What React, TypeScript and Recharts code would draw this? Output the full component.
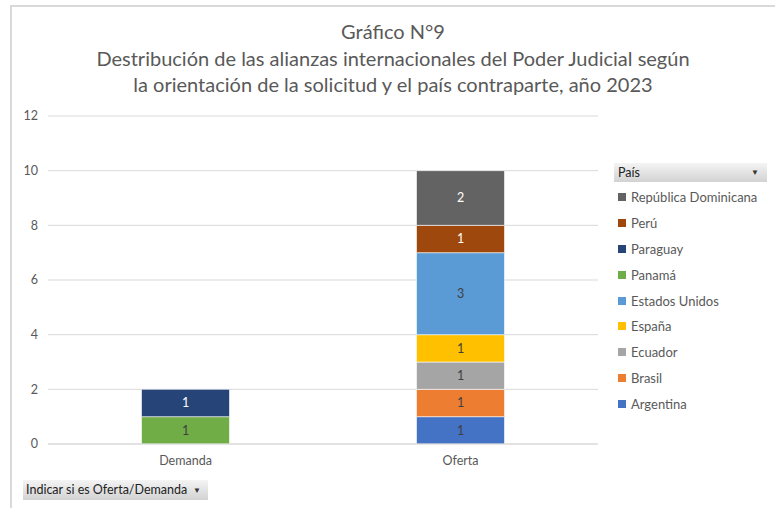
import { BarChart, Bar, CartesianGrid, LabelList, XAxis, YAxis } from "recharts";

const categories = ["Demanda", "Oferta"];

// stack order, bottom to top
const countries = [
  "Argentina",
  "Brasil",
  "Ecuador",
  "España",
  "Estados Unidos",
  "Panamá",
  "Paraguay",
  "Perú",
  "República Dominicana",
];

const demanda = [null, null, null, null, null, 1, 1, null, null];
const oferta = [1, 1, 1, 1, 3, null, null, 1, 2];

const yTicks = [0, 2, 4, 6, 8, 10, 12];

const COLORS: Record<string, string> = {
  Argentina: "#4472C4",
  Brasil: "#ED7D31",
  Ecuador: "#A5A5A5",
  España: "#FFC000",
  "Estados Unidos": "#5B9BD5",
  Panamá: "#70AD47",
  Paraguay: "#264478",
  Perú: "#9E480E",
  "República Dominicana": "#636363",
};

const LIGHT_LABEL = new Set(["Paraguay", "Perú", "República Dominicana"]);

const FONT = "Lato, 'Open Sans', sans-serif";
const TEXT = "#595959";

const data = categories.map((cat, i) => {
  const row: Record<string, string | number | null> = { cat };
  const vals = i === 0 ? demanda : oferta;
  countries.forEach((c, j) => (row[c] = vals[j]));
  return row;
});

function LegendBox() {
  return (
    <div style={{ position: "absolute", left: 614, top: 163, width: 153, fontFamily: FONT }}>
      <div
        style={{
          width: 153,
          height: 19,
          background: "linear-gradient(#f4f4f4, #d2d2d2)",
          fontSize: 12.5,
          color: "#222",
          lineHeight: "19px",
          paddingLeft: 4,
          boxSizing: "border-box",
          position: "relative",
        }}
      >
        País
        <span style={{ position: "absolute", right: 8, top: 0, fontSize: 8, color: "#333" }}>▼</span>
      </div>
      <div style={{ marginTop: 2 }}>
        {[...countries].reverse().map((c) => (
          <div key={c} style={{ display: "flex", alignItems: "center", height: 25.9, marginLeft: 4 }}>
            <span style={{ width: 8, height: 8, background: COLORS[c], marginRight: 5, display: "block" }} />
            <span style={{ fontSize: 13, color: TEXT }}>{c}</span>
          </div>
        ))}
      </div>
    </div>
  );
}

export default function App() {
  return (
    <div style={{ position: "absolute", left: 0, top: 0, width: 775, height: 508, background: "#fff", overflow: "hidden" }}>
      <div
        style={{
          position: "absolute",
          left: 10,
          top: 5,
          width: 780,
          height: 520,
          borderTop: "2px solid #d9d9d9",
          borderLeft: "2px solid #d9d9d9",
        }}
      />
      <div
        style={{
          position: "absolute",
          left: 4,
          top: 18,
          width: 778,
          textAlign: "center",
          fontFamily: FONT,
          fontSize: 20,
          lineHeight: "26.5px",
          color: TEXT,
        }}
      >
        <div>Gráfico N°9</div>
        <div>Destribución de las alianzas internacionales del Poder Judicial según</div>
        <div>la orientación de la solicitud y el país contraparte, año 2023</div>
      </div>
      <div style={{ position: "absolute", left: 0, top: 0 }}>
        <BarChart
          width={775}
          height={508}
          data={data}
          margin={{ top: 116, right: 177, bottom: 34, left: 0 }}
          barCategoryGap="34%"
        >
          <CartesianGrid vertical={false} stroke="#d9d9d9" />
          <XAxis
            dataKey="cat"
            axisLine={{ stroke: "#d9d9d9" }}
            tickLine={false}
            height={30}
            tick={{ fill: TEXT, fontSize: 12.5, fontFamily: FONT }}
            tickMargin={6}
          />
          <YAxis
            width={48}
            domain={[0, 12]}
            ticks={yTicks}
            axisLine={false}
            tickLine={false}
            tick={{ fill: TEXT, fontSize: 12.5, fontFamily: FONT }}
            tickMargin={4}
          />
          {countries.map((c) => (
            <Bar key={c} dataKey={c} stackId="a" fill={COLORS[c]} stroke="#ffffff" strokeWidth={0.6} isAnimationActive={false}>
              <LabelList
                dataKey={c}
                position="center"
                fill={LIGHT_LABEL.has(c) ? "#ffffff" : "#404040"}
                fontSize={12.5}
                fontFamily={FONT}
                formatter={(v: unknown) => (v == null ? "" : String(v))}
              />
            </Bar>
          ))}
        </BarChart>
      </div>
      <LegendBox />
      <div
        style={{
          position: "absolute",
          left: 23,
          top: 480,
          width: 185,
          height: 20,
          background: "linear-gradient(#f4f4f4, #d2d2d2)",
          fontFamily: FONT,
          fontSize: 12.5,
          lineHeight: "20px",
          color: "#222",
          paddingLeft: 3,
          boxSizing: "border-box",
        }}
      >
        Indicar si es Oferta/Demanda
        <span style={{ position: "absolute", right: 7, top: 0, fontSize: 8, color: "#333" }}>▼</span>
      </div>
    </div>
  );
}
